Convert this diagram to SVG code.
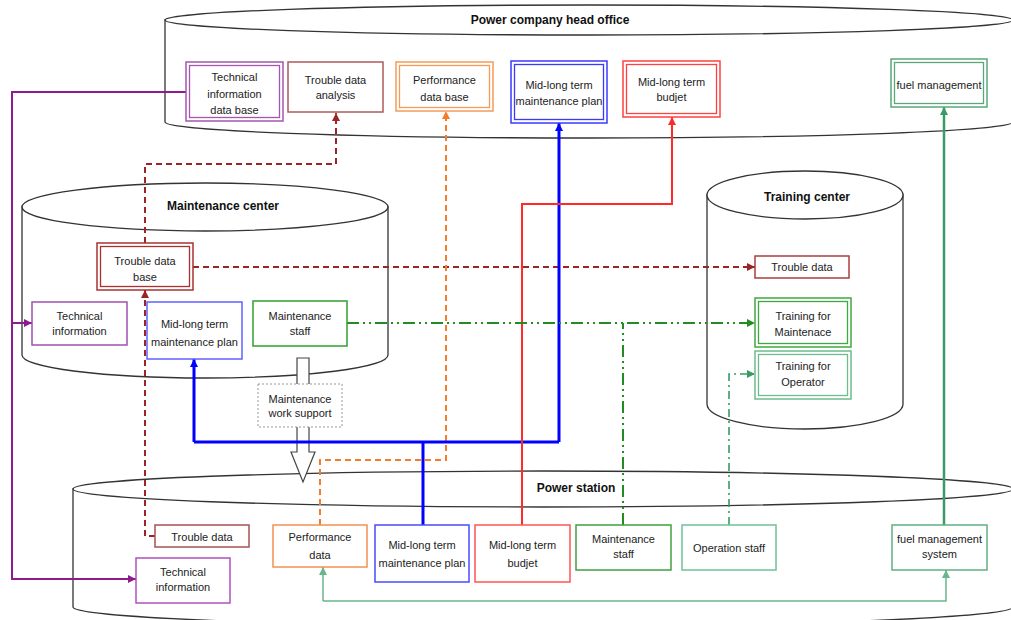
<svg xmlns="http://www.w3.org/2000/svg" width="1011" height="620" viewBox="0 0 1011 620">
<style>
.cyl{fill:#fff;stroke:#333;stroke-width:1.3}
.t{font-family:"Liberation Sans",Arial,sans-serif;font-size:11px;fill:#222;text-anchor:middle}
.title{font-family:"Liberation Sans",Arial,sans-serif;font-size:12px;font-weight:bold;fill:#111;text-anchor:middle}
.box{fill:#fff;stroke-width:1.5}
.dbl{fill:#fff;stroke-width:1.5}
.in{fill:none;stroke-width:1.3}
.c{fill:none}
</style>
<defs>
<marker id="aP" markerWidth="9" markerHeight="8" refX="8" refY="4" orient="auto" markerUnits="userSpaceOnUse"><path d="M0,0 L8,4 L0,8 z" fill="#8e1b8e"/></marker>
<marker id="aR" markerWidth="9" markerHeight="8" refX="8" refY="4" orient="auto" markerUnits="userSpaceOnUse"><path d="M0,0 L8,4 L0,8 z" fill="#9b2424"/></marker>
<marker id="aO" markerWidth="9" markerHeight="8" refX="8" refY="4" orient="auto" markerUnits="userSpaceOnUse"><path d="M0,0 L8,4 L0,8 z" fill="#f57c2a"/></marker>
<marker id="aB" markerWidth="9" markerHeight="8" refX="8" refY="4" orient="auto" markerUnits="userSpaceOnUse"><path d="M0,0 L8,4 L0,8 z" fill="#0000ff"/></marker>
<marker id="aRd" markerWidth="9" markerHeight="8" refX="8" refY="4" orient="auto" markerUnits="userSpaceOnUse"><path d="M0,0 L8,4 L0,8 z" fill="#ff2a2a"/></marker>
<marker id="aG" markerWidth="9" markerHeight="8" refX="8" refY="4" orient="auto" markerUnits="userSpaceOnUse"><path d="M0,0 L8,4 L0,8 z" fill="#228b22"/></marker>
<marker id="aT" markerWidth="9" markerHeight="8" refX="8" refY="4" orient="auto" markerUnits="userSpaceOnUse"><path d="M0,0 L8,4 L0,8 z" fill="#3a9a66"/></marker>
<marker id="aF" markerWidth="9" markerHeight="8" refX="8" refY="4" orient="auto" markerUnits="userSpaceOnUse"><path d="M0,0 L8,4 L0,8 z" fill="#3c9a64"/></marker>
<marker id="aL" markerWidth="9" markerHeight="8" refX="8" refY="4" orient="auto" markerUnits="userSpaceOnUse"><path d="M0,0 L8,4 L0,8 z" fill="#6ab58a"/></marker>
</defs>

<g id="head-office-cylinder">
<path class="cyl" d="M165,20 V122 A424,16 0 0 0 1013,122 V20 Z"/>
<ellipse class="cyl" cx="589" cy="20" rx="424" ry="15"/>
<text class="title" x="550" y="24">Power company head office</text>
</g>
<g id="maintenance-center-cylinder">
<path class="cyl" d="M22,207 V355 A183,23 0 0 0 388,355 V207 Z"/>
<ellipse class="cyl" cx="205" cy="207" rx="183" ry="24"/>
<text class="title" x="223" y="210">Maintenance center</text>
</g>
<g id="training-center-cylinder">
<path class="cyl" d="M707,195 V404 A98,25 0 0 0 903,404 V195 Z"/>
<ellipse class="cyl" cx="805" cy="195" rx="98" ry="24"/>
<text class="title" x="807" y="201">Training center</text>
</g>
<g id="power-station-cylinder">
<path class="cyl" d="M73,489 V607 A470,19 0 0 0 1013,607 V489 Z"/>
<ellipse class="cyl" cx="543" cy="489" rx="470" ry="18"/>
<text class="title" x="576" y="492">Power station</text>
</g>

<g id="work-support-arrow">
<path d="M297,358 H309 V452 H315 L303,482 L291,452 H297 Z" fill="#fff" stroke="#444" stroke-width="1.2"/>
</g>

<g id="connectors">
<path class="c" d="M186,92 H12 V579 H136" stroke="#8e1b8e" stroke-width="2" marker-end="url(#aP)"/>
<path class="c" d="M12,323 H32" stroke="#8e1b8e" stroke-width="2" marker-end="url(#aP)"/>
<path class="c" d="M145,243 V164 H336 V113" stroke="#9b2424" stroke-width="2" stroke-dasharray="6,4" marker-end="url(#aR)"/>
<path class="c" d="M193,267 H755" stroke="#9b2424" stroke-width="2" stroke-dasharray="6,4" marker-end="url(#aR)"/>
<path class="c" d="M155,536 H145 V290" stroke="#9b2424" stroke-width="2" stroke-dasharray="6,4" marker-end="url(#aR)"/>
<path class="c" d="M320,525 V460 H446 V111" stroke="#f57c2a" stroke-width="2" stroke-dasharray="6,4" marker-end="url(#aO)"/>
<path class="c" d="M423,525 V442" stroke="#0000ff" stroke-width="3"/>
<path class="c" d="M194,442 H559" stroke="#0000ff" stroke-width="3"/>
<path class="c" d="M194,442 V359" stroke="#0000ff" stroke-width="3" marker-end="url(#aB)"/>
<path class="c" d="M559,442 V123" stroke="#0000ff" stroke-width="3" marker-end="url(#aB)"/>
<path class="c" d="M522,525 V204 H672 V117" stroke="#ff2a2a" stroke-width="2" marker-end="url(#aRd)"/>
<path class="c" d="M347,323 H755" stroke="#228b22" stroke-width="2" stroke-dasharray="12,4,2,4,2,4" marker-end="url(#aG)"/>
<path class="c" d="M623,525 V323" stroke="#228b22" stroke-width="2" stroke-dasharray="12,4,2,4,2,4"/>
<path class="c" d="M729,525 V374 H755" stroke="#3a9a66" stroke-width="1.6" stroke-dasharray="8,4,2,4" marker-end="url(#aT)"/>
<path class="c" d="M944,525 V107" stroke="#3c9a64" stroke-width="2.5" marker-end="url(#aF)"/>
<path class="c" d="M323,601 H946 V570" stroke="#6ab58a" stroke-width="1.5" marker-end="url(#aL)"/>
<path class="c" d="M323,601 V567" stroke="#6ab58a" stroke-width="1.5" marker-end="url(#aL)"/>
</g>

<g id="head-tech-info-db">
<rect class="dbl" x="186" y="62" width="97" height="59" stroke="#a555b0"/>
<rect class="in" x="189.5" y="65.5" width="90" height="52" stroke="#a555b0"/>
<text class="t" x="234.5" y="81">Technical</text><text class="t" x="234.5" y="98">information</text><text class="t" x="234.5" y="114">data base</text>
</g>
<g id="head-trouble-analysis">
<rect class="box" x="288" y="62" width="95" height="50" stroke="#b05a5a"/>
<text class="t" x="335.5" y="84">Trouble data</text><text class="t" x="335.5" y="99">analysis</text>
</g>
<g id="head-performance-db">
<rect class="dbl" x="396" y="62" width="97" height="49" stroke="#f59a58"/>
<rect class="in" x="399.5" y="65.5" width="90" height="42" stroke="#f59a58"/>
<text class="t" x="444.5" y="84">Performance</text><text class="t" x="444.5" y="101">data base</text>
</g>
<g id="head-plan">
<rect class="dbl" x="511" y="61" width="96" height="62" stroke="#3a3aff"/>
<rect class="in" x="514.5" y="64.5" width="89" height="55" stroke="#3a3aff"/>
<text class="t" x="559" y="89">Mid-long term</text><text class="t" x="559" y="105">maintenance plan</text>
</g>
<g id="head-budjet">
<rect class="dbl" x="623" y="61" width="97" height="56" stroke="#ff4040"/>
<rect class="in" x="626.5" y="64.5" width="90" height="49" stroke="#ff4040"/>
<text class="t" x="671.5" y="86">Mid-long term</text><text class="t" x="671.5" y="101">budjet</text>
</g>
<g id="head-fuel">
<rect class="dbl" x="891" y="59" width="96" height="48" stroke="#5aa87a"/>
<rect class="in" x="894.5" y="62.5" width="89" height="41" stroke="#5aa87a"/>
<text class="t" x="939" y="89">fuel management</text>
</g>

<g id="mc-trouble-db">
<rect class="dbl" x="97" y="243" width="96" height="47" stroke="#a83232"/>
<rect class="in" x="100.5" y="246.5" width="89" height="40" stroke="#a83232"/>
<text class="t" x="145" y="265">Trouble data</text><text class="t" x="145" y="281">base</text>
</g>
<g id="mc-tech-info">
<rect class="box" x="32" y="302" width="95" height="43" stroke="#a050b0"/>
<text class="t" x="79.5" y="320">Technical</text><text class="t" x="79.5" y="335">information</text>
</g>
<g id="mc-plan">
<rect class="box" x="147" y="302" width="95" height="57" stroke="#6060ff"/>
<text class="t" x="194.5" y="328">Mid-long term</text><text class="t" x="194.5" y="346">maintenance plan</text>
</g>
<g id="mc-staff">
<rect class="box" x="253" y="301" width="94" height="45" stroke="#30a030"/>
<text class="t" x="300" y="320">Maintenance</text><text class="t" x="300" y="335">staff</text>
</g>
<g id="work-support-label">
<rect x="258" y="384" width="84" height="43" fill="#fff" stroke="#999" stroke-width="1" stroke-dasharray="2,2"/>
<text class="t" x="300" y="403">Maintenance</text><text class="t" x="300" y="417">work support</text>
</g>

<g id="tc-trouble-data">
<rect class="box" x="755" y="256" width="94" height="22" stroke="#a84040"/>
<text class="t" x="802" y="271">Trouble data</text>
</g>
<g id="tc-training-maint">
<rect class="dbl" x="755" y="298" width="96" height="49" stroke="#40a840"/>
<rect class="in" x="758.5" y="301.5" width="89" height="42" stroke="#40a840"/>
<text class="t" x="803" y="320">Training for</text><text class="t" x="803" y="336">Maintenace</text>
</g>
<g id="tc-training-operator">
<rect class="dbl" x="755" y="351" width="96" height="48" stroke="#6cbc8c"/>
<rect class="in" x="758.5" y="354.5" width="89" height="41" stroke="#6cbc8c"/>
<text class="t" x="803" y="370">Training for</text><text class="t" x="803" y="386">Operator</text>
</g>

<g id="ps-trouble-data">
<rect class="box" x="155" y="525" width="94" height="22" stroke="#a85050"/>
<text class="t" x="202" y="541">Trouble data</text>
</g>
<g id="ps-tech-info">
<rect class="box" x="136" y="558" width="94" height="45" stroke="#b050c0"/>
<text class="t" x="183" y="576">Technical</text><text class="t" x="183" y="591">information</text>
</g>
<g id="ps-performance">
<rect class="box" x="273" y="525" width="94" height="42" stroke="#f59050"/>
<text class="t" x="320" y="541">Performance</text><text class="t" x="320" y="559">data</text>
</g>
<g id="ps-plan">
<rect class="box" x="375" y="525" width="94" height="57" stroke="#4a4aff"/>
<text class="t" x="422" y="549">Mid-long term</text><text class="t" x="422" y="567">maintenance plan</text>
</g>
<g id="ps-budjet">
<rect class="box" x="475" y="525" width="95" height="57" stroke="#ff5555"/>
<text class="t" x="522.5" y="549">Mid-long term</text><text class="t" x="522.5" y="567">budjet</text>
</g>
<g id="ps-staff">
<rect class="box" x="576" y="525" width="95" height="45" stroke="#40a040"/>
<text class="t" x="623.5" y="543">Maintenance</text><text class="t" x="623.5" y="558">staff</text>
</g>
<g id="ps-operation">
<rect class="box" x="682" y="525" width="94" height="45" stroke="#70c098"/>
<text class="t" x="729" y="552">Operation staff</text>
</g>
<g id="ps-fuel-system">
<rect class="box" x="892" y="525" width="95" height="45" stroke="#60b080"/>
<text class="t" x="939.5" y="543">fuel management</text><text class="t" x="939.5" y="558">system</text>
</g>
</svg>
